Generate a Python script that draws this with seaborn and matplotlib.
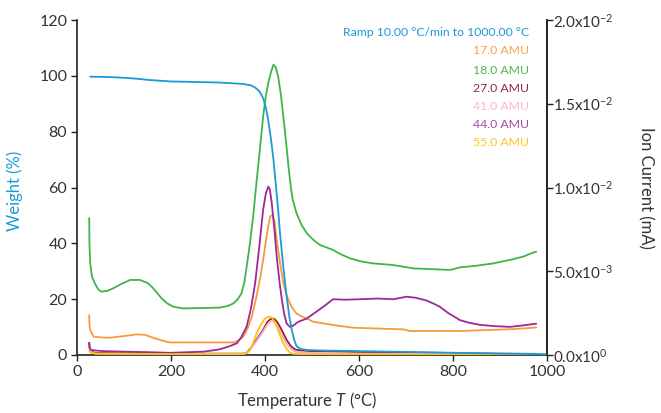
import numpy as np
import pandas as pd
import matplotlib
matplotlib.use("Agg")
import matplotlib.pyplot as plt
import seaborn as sns

# ---------------- data ----------------
# Weight (%) vs temperature (°C)
w_T = [28, 60, 91, 125, 155, 198, 250, 304, 353, 370, 379, 388, 396, 402, 407, 413, 418, 423,
       428, 432, 439, 446, 452, 457, 462, 467, 475, 489, 520, 600, 700, 800, 900, 1000]
w_val = [99.7, 99.6, 99.4, 99.0, 98.5, 98.0, 97.8, 97.6, 97.1, 96.6, 95.8, 94.5, 92.0, 88.5,
         84.0, 77.0, 70.0, 61.0, 52.0, 43.5, 31.5, 21.0, 13.5, 9.0, 5.5, 3.2, 2.2, 1.8, 1.6,
         1.4, 1.1, 0.8, 0.5, 0.3]

# Ion currents, values in 10^-3 mA
m17_T = [26, 26.5, 28, 35, 50, 70, 100, 127, 145, 155, 165, 177, 190, 198, 250, 300, 333, 345,
         354, 363, 372, 380, 389, 396, 402, 407, 411, 416, 420, 425, 432, 439, 446, 453, 460,
         467, 478, 489, 503, 517, 531, 560, 588, 640, 694, 709, 760, 815, 850, 886, 930, 971, 977]
m17_val = [2.38, 1.83, 1.5, 1.1, 1.05, 1.03, 1.13, 1.23, 1.2, 1.1, 1.0, 0.9, 0.8, 0.75, 0.75,
           0.75, 0.75, 0.88, 1.1, 1.58, 2.28, 3.25, 4.48, 5.67, 6.83, 7.67, 8.27, 8.37, 8.0,
           6.87, 5.5, 4.28, 3.58, 3.08, 2.72, 2.48, 2.3, 2.18, 1.98, 1.92, 1.85, 1.73, 1.63,
           1.58, 1.53, 1.43, 1.43, 1.43, 1.47, 1.5, 1.55, 1.63, 1.65]

m18_T = [26, 26.5, 28, 32, 38, 45, 52, 65, 77, 95, 113, 134, 150, 160, 170, 180, 192, 205, 226,
         260, 304, 320, 333, 342, 350, 356, 361, 368, 375, 382, 389, 396, 402, 407, 413, 418,
         423, 428, 434, 439, 445, 450, 455, 459, 467, 478, 489, 503, 517, 531, 545, 560, 581,
         605, 630, 673, 716, 750, 794, 815, 850, 886, 928, 950, 971, 977]
m18_val = [8.17, 6.67, 5.5, 4.67, 4.28, 3.92, 3.78, 3.83, 3.98, 4.25, 4.48, 4.48, 4.30, 4.05,
           3.72, 3.38, 3.08, 2.88, 2.78, 2.80, 2.83, 2.92, 3.08, 3.33, 3.68, 4.33, 5.27, 6.67,
           8.33, 10.33, 12.25, 14.23, 15.5, 16.23, 16.92, 17.33, 17.17, 16.63, 15.5, 14.23,
           12.67, 11.25, 10.0, 9.27, 8.47, 7.75, 7.27, 6.87, 6.57, 6.42, 6.27, 6.03, 5.77,
           5.58, 5.47, 5.37, 5.17, 5.13, 5.08, 5.23, 5.33, 5.47, 5.72, 5.88, 6.12, 6.17]

m27_T = [26, 26.5, 28, 33, 40, 100, 200, 300, 355, 361, 370, 380, 390, 396, 405, 411, 416, 420,
         426, 432, 439, 446, 455, 464, 475, 500, 600, 700, 800, 900, 977]
m27_val = [0.73, 0.5, 0.3, 0.17, 0.12, 0.1, 0.08, 0.08, 0.08, 0.13, 0.42, 0.83, 1.25, 1.5, 1.97,
           2.13, 2.18, 2.15, 1.97, 1.68, 1.3, 0.9, 0.53, 0.33, 0.27, 0.23, 0.18, 0.15, 0.12,
           0.08, 0.07]

m41_T = [26, 28, 33, 40, 100, 200, 300, 355, 361, 370, 380, 390, 396, 405, 411, 416, 420, 426,
         432, 439, 446, 455, 464, 475, 500, 600, 800, 977]
m41_val = [0.58, 0.25, 0.13, 0.08, 0.07, 0.07, 0.07, 0.07, 0.12, 0.37, 0.77, 1.17, 1.42, 1.83,
           2.0, 2.03, 1.97, 1.75, 1.42, 1.03, 0.67, 0.37, 0.2, 0.15, 0.12, 0.08, 0.05, 0.03]

m44_T = [26, 26.5, 28, 35, 56, 100, 150, 198, 269, 300, 311, 325, 340, 350, 361, 370, 379, 388,
         396, 402, 407, 410, 414, 420, 425, 431, 436, 441, 446, 453, 460, 470, 489, 505, 524,
         545, 570, 602, 640, 673, 701, 720, 744, 760, 772, 790, 815, 835, 857, 890, 921, 950,
         971, 977]
m44_val = [0.73, 0.5, 0.33, 0.28, 0.23, 0.2, 0.17, 0.13, 0.2, 0.32, 0.4, 0.53, 0.7, 1.08, 1.7,
           2.75, 4.28, 6.5, 8.67, 9.67, 10.05, 9.92, 9.17, 7.5, 5.87, 4.33, 3.28, 2.42, 1.88,
           1.68, 1.75, 1.97, 2.18, 2.5, 2.88, 3.33, 3.3, 3.33, 3.37, 3.33, 3.48, 3.42, 3.25,
           3.05, 2.88, 2.5, 2.08, 1.92, 1.8, 1.72, 1.68, 1.77, 1.85, 1.87]

m55_T = [26, 27, 30, 40, 100, 200, 300, 355, 361, 368, 375, 382, 390, 400, 406, 411, 416, 420,
         425, 432, 439, 446, 453, 460, 480, 600, 800, 977]
m55_val = [0.25, 0.18, 0.13, 0.08, 0.07, 0.05, 0.05, 0.05, 0.13, 0.3, 0.75, 1.28, 1.75, 2.18,
           2.27, 2.28, 2.2, 2.0, 1.68, 1.17, 0.7, 0.37, 0.13, 0.07, 0.05, 0.03, 0.03, 0.03]

legend_labels = ["Ramp 10.00 °C/min to 1000.00 °C", "17.0 AMU", "18.0 AMU", "27.0 AMU",
                 "41.0 AMU", "44.0 AMU", "55.0 AMU"]
x_ticks = [0, 200, 400, 600, 800, 1000]
y_ticks = [0, 20, 40, 60, 80, 100, 120]
ion_ticks = [0.0, 0.005, 0.010, 0.015, 0.020]
ion_tick_labels = ["0.0x10$^{0}$", "5.0x10$^{-3}$", "1.0x10$^{-2}$", "1.5x10$^{-2}$",
                   "2.0x10$^{-2}$"]

# ---------------- style ----------------
sns.set_theme(style="ticks")
plt.rcParams["font.family"] = ["Lato", "DejaVu Sans"]
plt.rcParams["mathtext.fontset"] = "custom"
plt.rcParams["mathtext.rm"] = "Lato"
plt.rcParams["mathtext.it"] = "Lato:italic"

c_w = "#1b9ad6"
colors = {"17": "#f79a3e", "18": "#3db54a", "27": "#8c1f33", "41": "#f5a9c8",
          "44": "#9a2a98", "55": "#fcc30b"}
text_colors = [c_w, "#f7a04e", "#4cb848", "#8b2a3a", "#f7b6d2", "#a04ca0", "#fbc61e"]
dark = "#333333"

fig = plt.figure(figsize=(6.61, 4.13), dpi=100)
ax = fig.add_axes([77 / 661, 1 - 355 / 413, 470 / 661, 335 / 413])
ax2 = ax.twinx()

lw = 1.3
series = [("17", m17_T, m17_val), ("18", m18_T, m18_val), ("27", m27_T, m27_val),
          ("41", m41_T, m41_val), ("44", m44_T, m44_val), ("55", m55_T, m55_val)]
for key, T, v in series:
    sns.lineplot(x=np.array(T), y=np.array(v) * 1e-3, ax=ax2, color=colors[key], lw=lw,
                 estimator=None, sort=False)
sns.lineplot(x=np.array(w_T), y=np.array(w_val), ax=ax2, color=c_w, lw=lw,
             estimator=None, sort=False, transform=ax.transData)

ax.set_xlim(0, 1000)
ax.set_ylim(0, 120)
ax2.set_ylim(0, 0.02)
ax.set_xticks(x_ticks)
ax.set_yticks(y_ticks)
ax2.set_yticks(ion_ticks)
ax2.set_yticklabels(ion_tick_labels)

for a in (ax, ax2):
    a.spines["top"].set_visible(False)
    for s in a.spines.values():
        s.set_color("#222222")
        s.set_linewidth(1.2)
    a.tick_params(direction="out", length=4, width=1, colors="#222222", labelcolor=dark,
                  labelsize=11.5, pad=3)
ax2.tick_params(axis="y", labelsize=11, pad=0)
ax2.spines["left"].set_visible(False)
ax2.spines["bottom"].set_visible(False)

ax.set_xlabel("Temperature $T$ (°C)", fontsize=12, color=dark, va="center")
ax.xaxis.set_label_coords(0.49, -0.135)
ax.set_ylabel("Weight (%)", fontsize=12, color=c_w, va="center")
ax.yaxis.set_label_coords(-0.132, 0.49)
ax2.set_ylabel("Ion Current (mA)", fontsize=12, color=dark, rotation=-90, va="center")
ax2.yaxis.set_label_coords(1.21, 0.5)

ys = [33, 51, 70, 88, 106, 124, 142]
for lab, col, yp in zip(legend_labels, text_colors, ys):
    ax.text((529 - 77) / 470, (355 - yp) / 335, lab, transform=ax.transAxes, ha="right",
            va="center", fontsize=8.8, color=col)

fig.savefig("out.png", dpi=100)
